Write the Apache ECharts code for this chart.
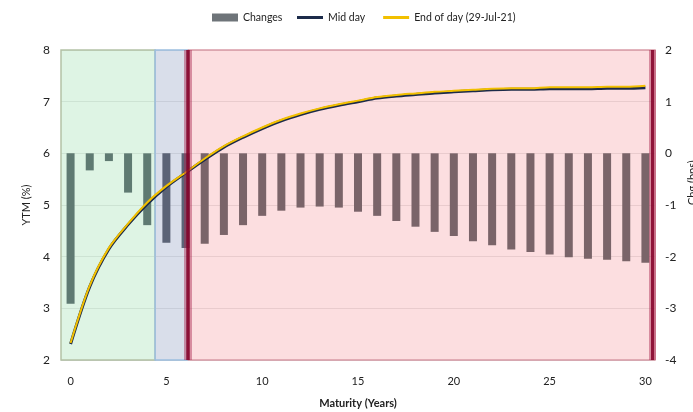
<!DOCTYPE html>
<html>
<head>
<meta charset="utf-8">
<script src="https://cdn.jsdelivr.net/npm/echarts@6/dist/echarts.min.js"></script>
<style>
html,body{margin:0;padding:0;background:#fff;}
#c{width:693px;height:412px;}
</style>
</head>
<body>
<div id="c"></div>
<script>
var maturities = [0,1,2,3,4,5,6,7,8,9,10,11,12,13,14,15,16,17,18,19,20,21,22,23,24,25,26,27,28,29,30];
var changes = [-2.91,-0.33,-0.15,-0.76,-1.39,-1.73,-1.83,-1.75,-1.58,-1.39,-1.21,-1.11,-1.05,-1.03,-1.05,-1.13,-1.21,-1.31,-1.42,-1.52,-1.60,-1.70,-1.78,-1.86,-1.91,-1.96,-2.01,-2.04,-2.06,-2.09,-2.12];
var midDay = [2.31,3.42,4.15,4.62,5.02,5.35,5.62,5.88,6.12,6.31,6.48,6.63,6.75,6.85,6.93,7.00,7.07,7.11,7.14,7.17,7.19,7.21,7.23,7.24,7.24,7.25,7.25,7.25,7.26,7.26,7.27];
var endOfDay = [2.33,3.44,4.17,4.64,5.05,5.37,5.63,5.90,6.14,6.33,6.50,6.65,6.77,6.87,6.95,7.02,7.09,7.13,7.16,7.19,7.21,7.23,7.25,7.26,7.26,7.28,7.28,7.28,7.29,7.29,7.31];
var xTicks = [0,5,10,15,20,25,30];
var zoneBounds = [-0.5, 4.41, 6.0, 30.5];
var bandLines = [6.12, 30.35];

var FONT = 'Lato, sans-serif';
var chart = echarts.init(document.getElementById('c'));

function barColor(p){
  var x = p.data[0];
  if (x < zoneBounds[1]) return '#5f7a72';
  if (x < zoneBounds[2] + 0.3) return '#5b6376';
  return '#7a6469';
}

chart.setOption({
  animation: false,
  textStyle: {fontFamily: FONT},
  legend: [
    {
      top: 7, left: 207,
      itemWidth: 26, itemHeight: 8,
      textStyle: {fontFamily: FONT, fontSize: 10.5, color: '#222'},
      data: [{name: 'Changes', icon: 'rect', itemStyle: {color: '#6e7479'}}]
    },
    {
      top: 7, left: 292,
      itemWidth: 26, itemHeight: 3, itemGap: 18,
      textStyle: {fontFamily: FONT, fontSize: 10.5, color: '#222'},
      data: [
        {name: 'Mid day', icon: 'rect'},
        {name: 'End of day (29-Jul-21)', icon: 'rect'}
      ]
    }
  ],
  grid: {left: 61, right: 38, top: 50, bottom: 52, outerBoundsMode: 'none', containLabel: false},
  xAxis: {
    type: 'value', min: -0.5, max: 30.5,
    name: 'Maturity (Years)', nameLocation: 'middle', nameGap: 38,
    nameTextStyle: {fontFamily: FONT, fontSize: 11, fontWeight: 'bold', color: '#222'},
    axisLine: {show: false}, axisTick: {show: false}, splitLine: {show: false},
    axisLabel: {customValues: xTicks, fontFamily: FONT, fontSize: 11, color: '#222', margin: 16}
  },
  yAxis: [
    {
      type: 'value', min: 2, max: 8, interval: 1, z: 1,
      name: 'YTM (%)', nameLocation: 'middle', nameGap: 29,
      nameTextStyle: {fontFamily: FONT, fontSize: 11, color: '#222'},
      axisLine: {show: false}, axisTick: {show: false},
      axisLabel: {fontFamily: FONT, fontSize: 12, color: '#222', margin: 11},
      splitLine: {lineStyle: {color: 'rgba(120,120,120,0.35)', width: 1}}
    },
    {
      type: 'value', min: -4, max: 2, interval: 1, z: 1,
      name: 'Chg (bps)', nameLocation: 'middle', nameGap: 31,
      nameTextStyle: {fontFamily: FONT, fontSize: 11, color: '#222', align: 'left'},
      axisLine: {show: false}, axisTick: {show: false},
      axisLabel: {fontFamily: FONT, fontSize: 12, color: '#222', margin: 10},
      splitLine: {show: false}
    }
  ],
  series: [
    {
      name: 'zones', type: 'line', data: [], z: 0, silent: true,
      markArea: {
        silent: true,
        data: [
          [{xAxis: zoneBounds[0], itemStyle: {color: 'rgba(205,238,214,0.65)', borderColor: '#b4c2a6', borderWidth: 1.5}}, {xAxis: zoneBounds[1]}],
          [{xAxis: zoneBounds[1], itemStyle: {color: 'rgba(196,204,222,0.65)', borderColor: '#9cbfe0', borderWidth: 1.5}}, {xAxis: zoneBounds[2] + 0.15}],
          [{xAxis: zoneBounds[2] + 0.15, itemStyle: {color: 'rgba(250,200,204,0.6)', borderColor: '#d99aa6', borderWidth: 1.5}}, {xAxis: zoneBounds[3]}]
        ]
      }
    },
    {
      name: 'Changes', type: 'bar', yAxisIndex: 1, barWidth: 8, z: 2,
      data: maturities.map(function(m, i){ return [m, changes[i]]; }),
      itemStyle: {color: barColor}
    },
    {
      name: 'Mid day', type: 'line', yAxisIndex: 0, smooth: 0.3, symbol: 'none', z: 3,
      color: '#1c2b4a',
      lineStyle: {color: '#1c2b4a', width: 3},
      data: maturities.map(function(m, i){ return [m, midDay[i]]; })
    },
    {
      name: 'End of day (29-Jul-21)', type: 'line', yAxisIndex: 0, smooth: 0.3, symbol: 'none', z: 4,
      color: '#f2c000',
      lineStyle: {color: '#f2c000', width: 2},
      data: maturities.map(function(m, i){ return [m, endOfDay[i]]; })
    },
    {
      name: 'bands', type: 'line', data: [], z: 5, silent: true,
      markLine: {
        silent: true, symbol: 'none', label: {show: false},
        data: [
          {xAxis: bandLines[0], lineStyle: {color: 'rgba(170,40,80,0.45)', width: 8, type: 'solid'}},
          {xAxis: bandLines[0], lineStyle: {color: 'rgba(130,0,40,0.85)', width: 3.5, type: 'solid'}},
          {xAxis: bandLines[1], lineStyle: {color: 'rgba(170,40,80,0.45)', width: 7, type: 'solid'}},
          {xAxis: bandLines[1], lineStyle: {color: 'rgba(130,0,40,0.85)', width: 3, type: 'solid'}}
        ]
      }
    }
  ]
});
</script>
</body>
</html>
